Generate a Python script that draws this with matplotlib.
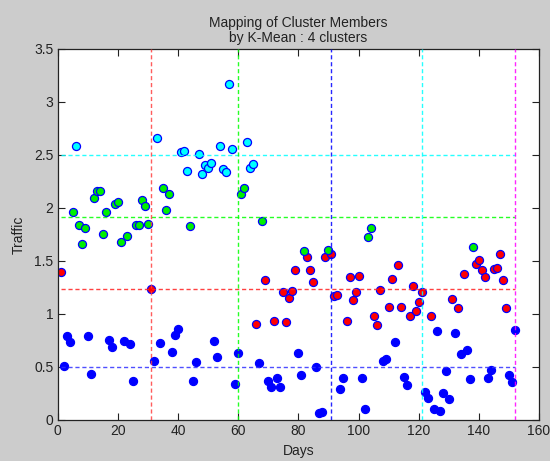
import matplotlib
matplotlib.use("Agg")
import matplotlib.pyplot as plt

# ---- data ----
blue_days = [2, 3, 4, 10, 11, 17, 18, 22, 24, 25, 32, 34, 38, 39, 40, 45, 46, 52, 53, 59, 60,
             67, 70, 71, 73, 74, 80, 81, 86, 87, 88, 94, 95, 101, 102, 108, 109, 112, 115, 116,
             122, 123, 125, 126, 127, 128, 129, 130, 132, 134, 136, 137, 143, 144, 150, 151, 152]
blue_traffic = [0.51, 0.79, 0.737, 0.79, 0.437, 0.75, 0.69, 0.746, 0.72, 0.365, 0.56, 0.73, 0.64,
                0.80, 0.86, 0.365, 0.55, 0.747, 0.59, 0.343, 0.634,
                0.54, 0.365, 0.315, 0.40, 0.31, 0.634, 0.424, 0.50, 0.062, 0.077, 0.29, 0.393,
                0.393, 0.105, 0.56, 0.574, 0.737, 0.405, 0.33,
                0.265, 0.208, 0.105, 0.84, 0.083, 0.25, 0.459, 0.20, 0.818, 0.62, 0.66, 0.384,
                0.393, 0.468, 0.428, 0.356, 0.85]

red_days = [1, 31, 66, 69, 72, 75, 76, 77, 78, 79, 83, 84, 85, 89, 91, 92, 93, 96, 97, 98, 99,
            100, 105, 106, 107, 110, 111, 113, 114, 117, 118, 119, 120, 121, 124, 131, 133,
            135, 139, 140, 141, 142, 145, 146, 147, 148, 149]
red_traffic = [1.40, 1.234, 0.906, 1.32, 0.937, 1.206, 0.925, 1.155, 1.22, 1.415, 1.54, 1.415,
               1.30, 1.54, 1.57, 1.165, 1.18, 0.937, 1.35, 1.134, 1.206,
               1.36, 0.977, 0.897, 1.228, 1.07, 1.33, 1.465, 1.07, 0.977, 1.259, 1.028, 1.109,
               1.206, 0.977, 1.143, 1.053, 1.372, 1.472, 1.507, 1.413, 1.35, 1.422, 1.434,
               1.57, 1.32, 1.06]

green_days = [5, 7, 8, 9, 12, 13, 14, 15, 16, 19, 20, 21, 23, 26, 27, 28, 29, 30, 35, 36, 37,
              44, 61, 62, 68, 82, 90, 103, 104, 138]
green_traffic = [1.966, 1.84, 1.66, 1.81, 2.09, 2.16, 2.16, 1.756, 1.966, 2.035, 2.06, 1.68,
                 1.737, 1.84, 1.84, 2.07, 2.016, 1.85, 2.185, 1.976, 2.13,
                 1.83, 2.13, 2.19, 1.88, 1.59, 1.603, 1.725, 1.81, 1.63]

cyan_days = [6, 33, 41, 42, 43, 47, 48, 49, 50, 51, 54, 55, 56, 57, 58, 63, 64, 65]
cyan_traffic = [2.58, 2.66, 2.525, 2.54, 2.35, 2.51, 2.32, 2.40, 2.375, 2.42, 2.58, 2.366,
                2.34, 3.17, 2.557, 2.62, 2.38, 2.41]

# cluster centre levels (traffic) and month boundaries (days)
centre_levels = [0.499, 1.234, 1.913, 2.50]
centre_colors = ["#3030ff", "#ff2020", "#00ff00", "#00ffff"]
month_ends = [31, 60, 91, 121, 152]
month_colors = ["#ff4040", "#00ff00", "#0000ff", "#00ffff", "#ff00ff"]
first_day = 1

x_ticks = [0, 20, 40, 60, 80, 100, 120, 140, 160]
y_ticks = [0, 0.5, 1, 1.5, 2, 2.5, 3, 3.5]
y_tick_labels = ["0", "0.5", "1", "1.5", "2", "2.5", "3", "3.5"]

title = "Mapping of Cluster Members\nby K-Mean : 4 clusters"
xlabel = "Days"
ylabel = "Traffic"

# ---- figure ----
plt.rcParams["font.family"] = ["Liberation Sans", "DejaVu Sans"]
fig = plt.figure(figsize=(5.5, 4.61), dpi=100, facecolor="#cccccc")
ax = fig.add_axes([0.105, 0.089, 0.875, 0.805])
ax.set_facecolor("white")

ms = 5.8
mew = 0.9
for days, vals, fc in [(blue_days, blue_traffic, "#0000ff"),
                       (red_days, red_traffic, "#ff0000"),
                       (green_days, green_traffic, "#00f000"),
                       (cyan_days, cyan_traffic, "#00ffff")]:
    ax.plot(days, vals, linestyle="none", marker="o", markersize=ms,
            markerfacecolor=fc, markeredgecolor="#0000ff", markeredgewidth=mew, zorder=2)

for lvl, c in zip(centre_levels, centre_colors):
    ax.plot([first_day, month_ends[-1]], [lvl, lvl], color=c, linewidth=1.0,
            dashes=(3, 2), alpha=0.85, zorder=3)
for d, c in zip(month_ends, month_colors):
    ax.plot([d, d], [0, 3.5], color=c, linewidth=1.0, dashes=(3, 2), alpha=0.85, zorder=3)

ax.set_xlim(0, 160)
ax.set_ylim(0, 3.5)
ax.set_xticks(x_ticks)
ax.set_yticks(y_ticks)
ax.set_yticklabels(y_tick_labels)
ax.tick_params(direction="in", length=5, width=0.8, top=True, right=True,
               labelsize=10, colors="#222222", labelcolor="#222222", pad=3)
for s in ax.spines.values():
    s.set_linewidth(0.9)
    s.set_color("#222222")

ax.set_title(title, fontsize=10, color="#222222", pad=5, linespacing=1.1)
ax.set_xlabel(xlabel, fontsize=10, color="#222222", labelpad=4)
ax.set_ylabel(ylabel, fontsize=10, color="#222222", labelpad=6)

fig.savefig("out.png", dpi=100, facecolor=fig.get_facecolor())
